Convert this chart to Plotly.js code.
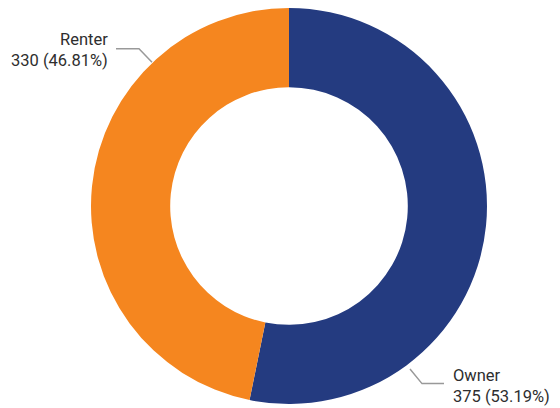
<!DOCTYPE html>
<html>
<head>
<meta charset="utf-8">
<script src="https://cdn.plot.ly/plotly-3.0.1.min.js"></script>
<style>html,body{margin:0;padding:0;background:#fff;}#chart{width:560px;height:408px;}</style>
</head>
<body>
<div id="chart"></div>
<script>
const categories = ["Owner", "Renter"];
const counts = [375, 330];
const colors = ["#243B80", "#F5861F"];

const W = 560, H = 408;
const total = counts.reduce((a, b) => a + b, 0);
const labelText = categories.map((c, i) =>
  c + "<br>" + counts[i] + " (" + (counts[i] / total * 100).toFixed(2) + "%)");

function px(x) { return x / W; }
function py(y) { return 1 - y / H; }

const font = {family: "Roboto, 'DejaVu Sans Condensed', sans-serif", size: 16.5, color: "#2e2e2e"};

const data = [{
  type: "pie",
  labels: categories,
  values: counts,
  hole: 0.6,
  sort: false,
  direction: "clockwise",
  rotation: 0,
  marker: {colors: colors, line: {width: 0}},
  textinfo: "none",
  hoverinfo: "label+value+percent",
  domain: {x: [px(91), px(487)], y: [0, 1]}
}];

const lineStyle = {color: "#999999", width: 1.5};
const layout = {
  width: W, height: H,
  margin: {l: 0, r: 0, t: 8, b: 4},
  showlegend: false,
  paper_bgcolor: "#ffffff",
  font: font,
  annotations: [
    {xref: "paper", yref: "paper", x: px(451), y: py(389), xanchor: "left", yanchor: "middle",
     align: "left", text: labelText[0], showarrow: false, font: font},
    {xref: "paper", yref: "paper", x: px(110), y: py(43), xanchor: "right", yanchor: "middle",
     align: "right", text: labelText[1], showarrow: false, font: font}
  ],
  shapes: [
    {type: "path", xref: "paper", yref: "paper",
     path: "M " + px(410) + "," + py(372) + " L " + px(422) + "," + py(387) + " L " + px(444) + "," + py(387),
     line: lineStyle},
    {type: "path", xref: "paper", yref: "paper",
     path: "M " + px(116) + "," + py(42) + " L " + px(139) + "," + py(42) + " L " + px(152) + "," + py(56),
     line: lineStyle}
  ]
};

Plotly.newPlot("chart", data, layout, {displayModeBar: false, staticPlot: true});
</script>
</body>
</html>
